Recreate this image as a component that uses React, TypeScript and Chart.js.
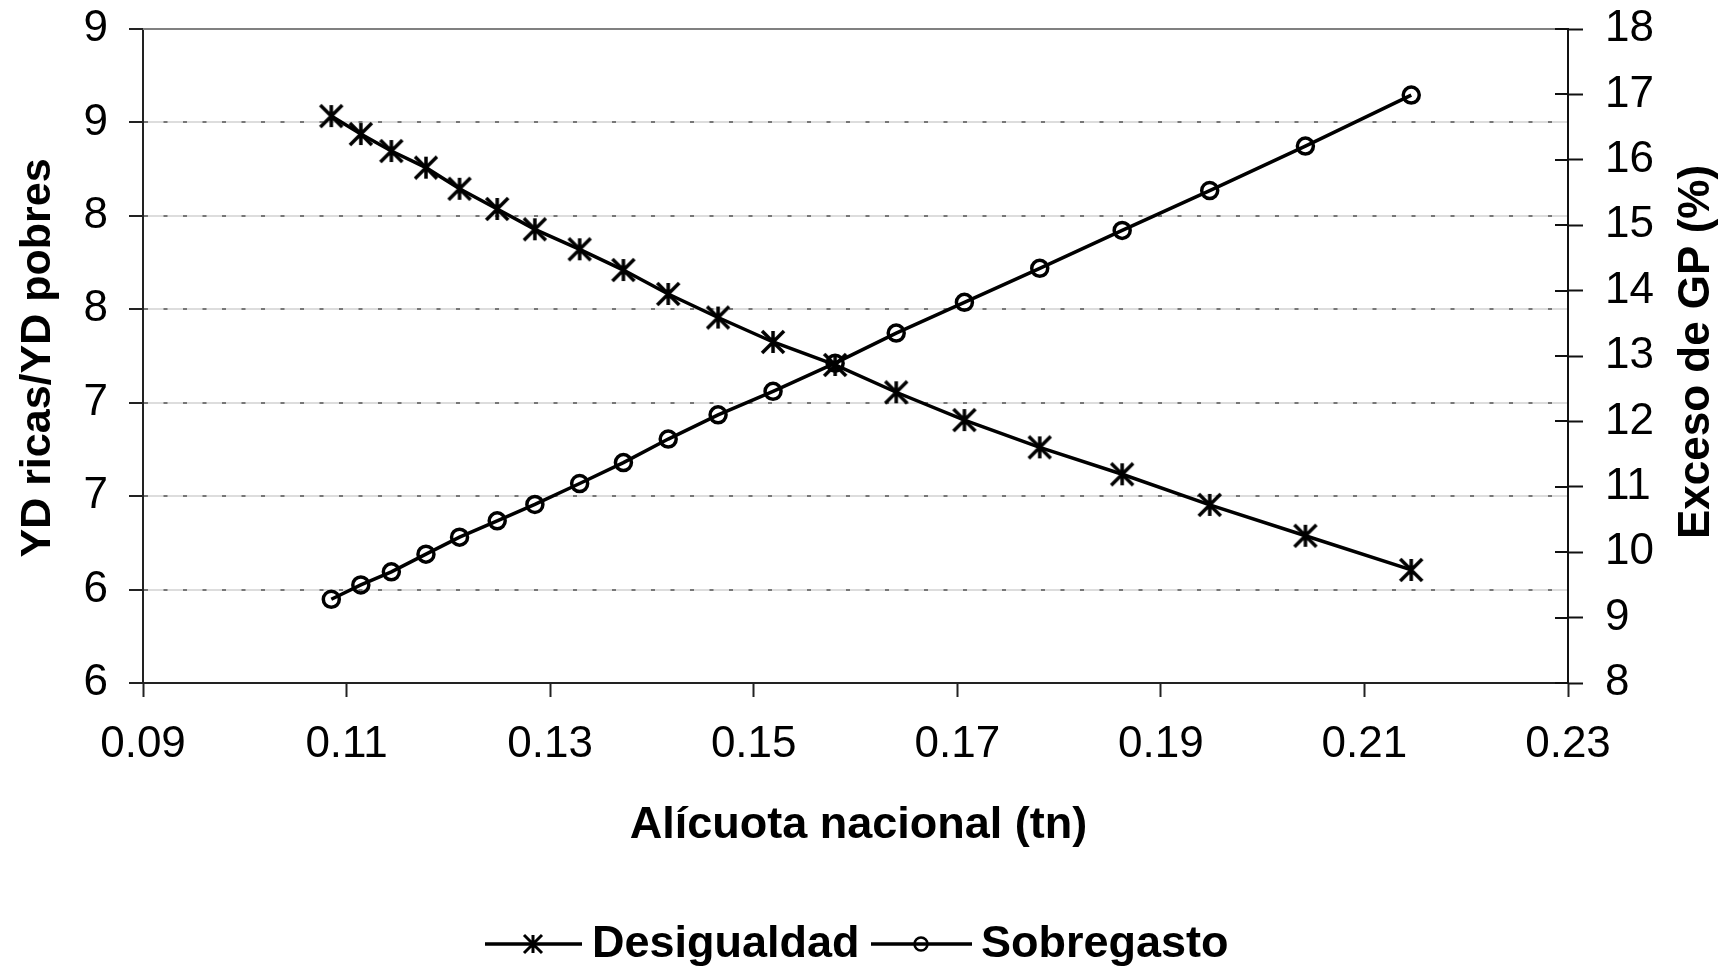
import React, { useEffect, useRef } from 'react';
import { Chart, registerables } from 'chart.js';

Chart.register(...registerables);

// ---- data ----
const alicuota = [0.1085, 0.1114, 0.1144, 0.1178, 0.1211, 0.1248, 0.1285, 0.1329, 0.1372, 0.1416, 0.1465, 0.1519, 0.158, 0.164, 0.1707, 0.1781, 0.1862, 0.1948, 0.2042, 0.2146];
const desigualdad = [8.534, 8.438, 8.347, 8.258, 8.145, 8.037, 7.928, 7.821, 7.71, 7.582, 7.456, 7.325, 7.202, 7.056, 6.907, 6.761, 6.617, 6.453, 6.288, 6.105];
const sobregasto = [9.28, 9.5, 9.7, 9.97, 10.23, 10.48, 10.73, 11.05, 11.37, 11.73, 12.1, 12.46, 12.89, 13.35, 13.82, 14.34, 14.92, 15.53, 16.21, 16.99];

const xTickLabels = ['0.09', '0.11', '0.13', '0.15', '0.17', '0.19', '0.21', '0.23'];
const leftTickLabels = ['6', '6', '7', '7', '8', '8', '9', '9'];
const rightTickLabels = ['8', '9', '10', '11', '12', '13', '14', '15', '16', '17', '18'];

const seriesNames = ['Desigualdad', 'Sobregasto'];
const xTitle = 'Alícuota nacional (tn)';
const leftTitle = 'YD ricas/YD pobres';
const rightTitle = 'Exceso de GP (%)';

const FONT = '"Liberation Sans", Arial, sans-serif';

function makeAsterisk(size: number, lw: number): HTMLCanvasElement {
  const pad = 2;
  const c = document.createElement('canvas');
  c.width = size + pad * 2;
  c.height = size + pad * 2;
  const g = c.getContext('2d')!;
  g.strokeStyle = '#000';
  g.lineWidth = lw;
  g.lineCap = 'butt';
  g.beginPath();
  g.moveTo(pad, pad);
  g.lineTo(pad + size, pad + size);
  g.moveTo(pad + size, pad);
  g.lineTo(pad, pad + size);
  g.moveTo(pad + size / 2, pad);
  g.lineTo(pad + size / 2, pad + size);
  g.stroke();
  return c;
}

const decor = {
  id: 'decor',
  beforeDatasetsDraw(chart: any) {
    const { ctx, chartArea: a } = chart;
    ctx.save();
    ctx.strokeStyle = '#808080';
    ctx.lineWidth = 2;
    ctx.beginPath();
    ctx.moveTo(a.left, a.top);
    ctx.lineTo(a.right, a.top);
    ctx.stroke();
    const y1 = chart.scales.y1;
    ctx.strokeStyle = '#111';
    ctx.lineWidth = 2;
    ctx.beginPath();
    y1.ticks.forEach((t: any) => {
      const py = Math.round(y1.getPixelForValue(t.value));
      ctx.moveTo(a.right - 13, py);
      ctx.lineTo(a.right, py);
    });
    ctx.stroke();
    ctx.restore();
  },
  afterDraw(chart: any) {
    const { ctx, chartArea: a } = chart;
    ctx.save();
    ctx.fillStyle = '#000';
    ctx.textAlign = 'center';
    ctx.textBaseline = 'middle';
    // x title
    ctx.font = `bold 45px ${FONT}`;
    ctx.fillText(xTitle, (a.left + a.right) / 2 + 3, 826);
    // left title
    ctx.save();
    ctx.translate(38, 358);
    ctx.rotate(-Math.PI / 2);
    ctx.font = `bold 43px ${FONT}`;
    ctx.fillText(leftTitle, 0, 0);
    ctx.restore();
    // right title
    ctx.save();
    ctx.translate(1697, 352);
    ctx.rotate(-Math.PI / 2);
    ctx.font = `bold 44px ${FONT}`;
    ctx.fillText(rightTitle, 0, 0);
    ctx.restore();

    // legend
    const ly = 944;
    ctx.strokeStyle = '#000';
    ctx.lineWidth = 3.5;
    ctx.beginPath();
    ctx.moveTo(485, ly);
    ctx.lineTo(582, ly);
    ctx.moveTo(871, ly);
    ctx.lineTo(972, ly);
    ctx.stroke();
    const ast = makeAsterisk(18, 3);
    ctx.drawImage(ast, 533 - ast.width / 2, ly - ast.height / 2);
    ctx.lineWidth = 2.5;
    ctx.beginPath();
    ctx.arc(921, ly, 6.5, 0, Math.PI * 2);
    ctx.stroke();
    ctx.fillStyle = '#000';
    ctx.textAlign = 'left';
    ctx.font = `bold 45px ${FONT}`;
    ctx.fillText(seriesNames[0], 592, ly + 1);
    ctx.fillText(seriesNames[1], 981, ly + 1);
    ctx.restore();
  },
};

export default function App() {
  const ref = useRef<HTMLCanvasElement | null>(null);

  useEffect(() => {
    if (!ref.current) return;
    const star = makeAsterisk(22, 3.5);
    const tickFont = { family: FONT, size: 44 };
    const chart = new Chart(ref.current, {
      type: 'line',
      data: {
        datasets: [
          {
            label: seriesNames[0],
            data: alicuota.map((x, i) => ({ x, y: desigualdad[i] })),
            yAxisID: 'y',
            borderColor: '#000',
            borderWidth: 3.5,
            pointStyle: star as any,
            pointRadius: 12,
            pointHoverRadius: 12,
            tension: 0,
          },
          {
            label: seriesNames[1],
            data: alicuota.map((x, i) => ({ x, y: sobregasto[i] })),
            yAxisID: 'y1',
            borderColor: '#000',
            borderWidth: 3.5,
            pointStyle: 'circle',
            pointRadius: 8,
            pointHoverRadius: 8,
            pointBorderWidth: 3.5,
            pointBackgroundColor: 'rgba(0,0,0,0)',
            pointBorderColor: '#000',
            tension: 0,
          },
        ],
      },
      options: {
        responsive: true,
        maintainAspectRatio: false,
        animation: false,
        layout: { padding: { top: 29, left: 0, right: 0, bottom: 0 } },
        plugins: {
          legend: { display: false },
          tooltip: { enabled: false },
          title: { display: false },
        },
        scales: {
          x: {
            type: 'linear',
            position: 'bottom',
            min: 0.09,
            max: 0.23,
            ticks: {
              stepSize: 0.02,
              font: tickFont,
              color: '#000',
              padding: 21,
              maxRotation: 0,
              autoSkip: false,
              callback: (_v: any, i: number) => xTickLabels[i],
            },
            grid: { drawOnChartArea: false, tickLength: 14, tickColor: '#222', tickWidth: 2 },
            border: { color: '#222', width: 2 },
            afterFit: (s: any) => {
              s.height = 286;
              s.paddingLeft = 0;
              s.paddingRight = 0;
            },
          },
          yg: {
            type: 'linear',
            position: 'left',
            min: 5.5,
            max: 9,
            ticks: { stepSize: 0.5, display: false },
            grid: { color: '#dddddd', lineWidth: 2, drawTicks: false, z: -1 },
            border: { display: false },
            afterFit: (s: any) => {
              s.width = 0;
              s.paddingTop = 0;
              s.paddingBottom = 0;
            },
          },
          y: {
            type: 'linear',
            position: 'left',
            min: 5.5,
            max: 9,
            ticks: {
              stepSize: 0.5,
              font: tickFont,
              color: '#000',
              padding: 21,
              autoSkip: false,
              callback: (_v: any, i: number) => leftTickLabels[i],
            },
            grid: { color: '#777', lineWidth: 2, tickLength: 14, tickColor: '#222', tickWidth: 2 },
            border: { color: '#222', width: 2, dash: [4, 15.5] },
            afterFit: (s: any) => {
              s.width = 143;
              s.paddingTop = 0;
              s.paddingBottom = 0;
            },
          },
          y1: {
            type: 'linear',
            position: 'right',
            min: 8,
            max: 18,
            ticks: {
              stepSize: 1,
              font: tickFont,
              color: '#000',
              padding: 22,
              autoSkip: false,
              callback: (_v: any, i: number) => rightTickLabels[i],
            },
            grid: { drawOnChartArea: false, tickLength: 15, tickColor: '#111', tickWidth: 2 },
            border: { color: '#111', width: 2 },
            afterFit: (s: any) => {
              s.width = 160;
              s.paddingTop = 0;
              s.paddingBottom = 0;
            },
          },
        },
      },
      plugins: [decor],
    });
    return () => chart.destroy();
  }, []);

  return (
    <div style={{ position: 'fixed', left: 0, top: 0, width: 1728, height: 969, background: '#fff' }}>
      <canvas ref={ref} />
    </div>
  );
}
